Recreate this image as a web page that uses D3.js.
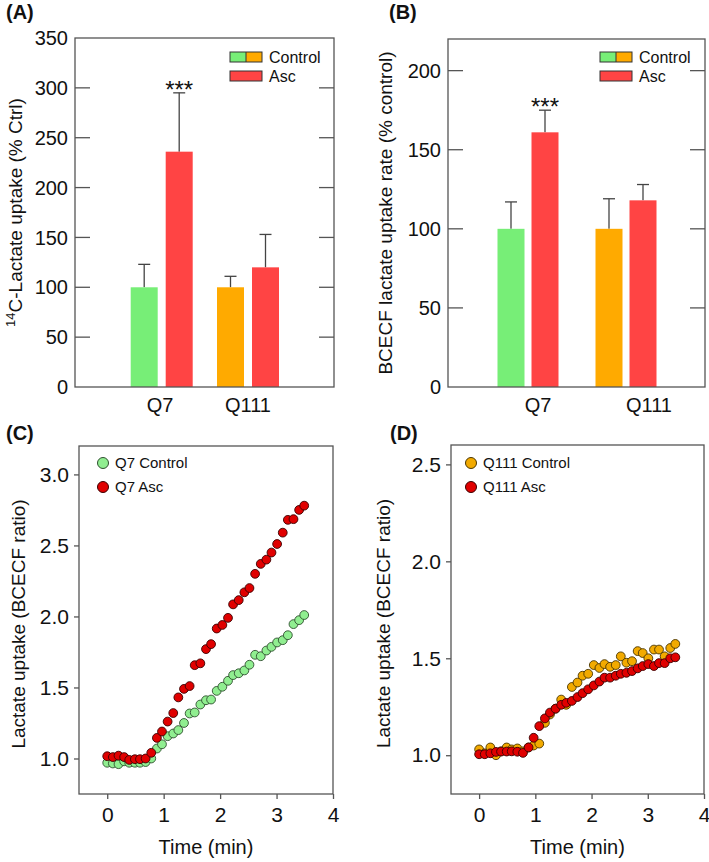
<!DOCTYPE html>
<html>
<head>
<meta charset="utf-8">
<script src="https://cdn.jsdelivr.net/npm/d3@7"></script>
<style>
  body { margin: 0; background: #fff; }
  svg text { font-family: "Liberation Sans", Arial, sans-serif; fill: #111; }
</style>
</head>
<body>
<div id="chart"></div>
<script>
// ---- data ----
const groups = ["Q7", "Q111"];
const uptakeA = [100, 236, 100, 120];        // Q7 ctrl, Q7 asc, Q111 ctrl, Q111 asc
const uptakeAErr = [123, 295, 111, 153];     // top of error bar
const rateB = [100, 161, 100, 118];
const rateBErr = [117, 175, 119, 128];
const ticksA = [0, 50, 100, 150, 200, 250, 300, 350];
const ticksB = [0, 50, 100, 150, 200];

const timeC = [0, 0.1, 0.2, 0.3, 0.39, 0.49, 0.58, 0.68, 0.78, 0.88, 0.97, 1.07, 1.17, 1.26, 1.36, 1.46, 1.55, 1.65, 1.75, 1.84, 1.94, 2.04, 2.14, 2.23, 2.33, 2.43, 2.52, 2.62, 2.72, 2.82, 2.91, 3.01, 3.11, 3.2, 3.3, 3.4, 3.49];
const q7Control = [0.97, 0.965, 0.96, 0.98, 0.97, 0.97, 0.97, 0.975, 1.0, 1.07, 1.1, 1.157, 1.176, 1.2, 1.25, 1.317, 1.324, 1.38, 1.41, 1.415, 1.476, 1.505, 1.547, 1.587, 1.6, 1.62, 1.66, 1.73, 1.72, 1.76, 1.786, 1.817, 1.833, 1.868, 1.946, 1.974, 2.01];
const q7Asc = [1.016, 1.01, 1.02, 1.01, 0.99, 0.995, 0.995, 1.0, 1.04, 1.145, 1.19, 1.26, 1.32, 1.43, 1.49, 1.51, 1.657, 1.67, 1.77, 1.805, 1.915, 1.94, 1.99, 2.085, 2.115, 2.17, 2.2, 2.3, 2.37, 2.4, 2.45, 2.51, 2.59, 2.68, 2.685, 2.75, 2.78];
const timeD = timeC;
const q111Control = [1.03, 1.01, 1.04, 1.0, 1.02, 1.04, 1.03, 1.035, 1.02, 1.04, 1.05, 1.06, 1.167, 1.21, 1.24, 1.287, 1.26, 1.352, 1.375, 1.41, 1.42, 1.465, 1.45, 1.47, 1.456, 1.465, 1.51, 1.477, 1.485, 1.537, 1.527, 1.5, 1.545, 1.545, 1.51, 1.553, 1.574];
const q111Asc = [1.005, 1.005, 1.01, 1.017, 1.019, 1.019, 1.02, 1.018, 1.012, 1.04, 1.09, 1.15, 1.19, 1.22, 1.24, 1.26, 1.27, 1.28, 1.3, 1.32, 1.34, 1.36, 1.38, 1.4, 1.4, 1.41, 1.42, 1.425, 1.434, 1.448, 1.46, 1.47, 1.46, 1.475, 1.475, 1.5, 1.505];
const ticksC = [1.0, 1.5, 2.0, 2.5, 3.0];
const ticksD = [1.0, 1.5, 2.0, 2.5];
const ticksTime = [0, 1, 2, 3, 4];

const GREEN = "#77ee77", ORANGE = "#ffaa00", RED = "#ff4444";
const FRAME = "#555";

const svg = d3.select("#chart").append("svg")
    .attr("width", 709)
    .attr("height", 862);

function panelLabel(txt, x, y) {
    svg.append("text").text(txt)
        .attr("x", x).attr("y", y)
        .style("font-size", "20px").style("font-weight", "bold");
}

function frame(g, l, r, t, b) {
    g.append("rect")
        .attr("x", l).attr("y", t).attr("width", r - l).attr("height", b - t)
        .attr("fill", "none").attr("stroke", FRAME).attr("stroke-width", 1.3);
}

/******* bar panels */
function barPanel(opts) {
    const { values, errs, ticks, domain, left, right, top, bottom, centers, labelPos, barW, gap, legendX, ylabel, ylabelX } = opts;
    const g = svg.append("g");
    const y = d3.scaleLinear().domain(domain).range([bottom, top]);
    const xc = d3.scaleOrdinal().domain(groups).range(centers);
    const xl = d3.scaleOrdinal().domain(groups).range(labelPos);
    const colors = [GREEN, RED, ORANGE, RED];

    const data = values.map((v, i) => ({
        group: groups[Math.floor(i / 2)], side: i % 2, v, err: errs[i], color: colors[i]
    }));
    const bx = d => xc(d.group) + (d.side === 0 ? -(gap / 2 + barW) : gap / 2);
    const inner = ticks.filter(t => t > domain[0] && t < domain[1]);

    // inward ticks on both sides
    g.append("g").selectAll("line").data(inner).enter()
        .append("line")
        .attr("x1", left).attr("x2", left + 15)
        .attr("y1", d => y(d)).attr("y2", d => y(d))
        .attr("stroke", FRAME).attr("stroke-width", 1.3);
    g.append("g").selectAll("line").data(inner).enter()
        .append("line")
        .attr("x1", right - 15).attr("x2", right)
        .attr("y1", d => y(d)).attr("y2", d => y(d))
        .attr("stroke", FRAME).attr("stroke-width", 1.3);
    g.append("g").selectAll("text").data(ticks).enter()
        .append("text").text(d => d)
        .attr("x", left - 7).attr("y", d => y(d))
        .attr("dy", "0.36em")
        .style("text-anchor", "end").style("font-size", "20px");

    // error bars (upper only)
    g.append("g").selectAll("g").data(data).enter()
        .append("g").each(function(d) {
            const cx = bx(d) + barW / 2;
            d3.select(this).append("line")
                .attr("x1", cx).attr("x2", cx).attr("y1", y(d.v)).attr("y2", y(d.err))
                .attr("stroke", "#444").attr("stroke-width", 1.3);
            d3.select(this).append("line")
                .attr("x1", cx - 6).attr("x2", cx + 6).attr("y1", y(d.err)).attr("y2", y(d.err))
                .attr("stroke", "#444").attr("stroke-width", 1.3);
        });

    g.append("g").selectAll("rect").data(data).enter()
        .append("rect")
        .attr("x", bx)
        .attr("y", d => y(d.v))
        .attr("width", barW)
        .attr("height", d => y(0) - y(d.v))
        .attr("fill", d => d.color);

    frame(g, left, right, top, bottom);

    // category labels
    g.append("g").selectAll("text").data(groups).enter()
        .append("text").text(d => d)
        .attr("x", d => xl(d)).attr("y", bottom + 25)
        .style("text-anchor", "middle").style("font-size", "20px");

    // significance above Q7 Asc
    g.append("text").text("***")
        .attr("x", bx(data[1]) + barW / 2).attr("y", y(data[1].err) + 5)
        .style("text-anchor", "middle").style("font-size", "24px");

    // legend
    const lg = g.append("g").attr("transform", `translate(${legendX},52)`);
    lg.append("rect").attr("x", 0).attr("y", 0).attr("width", 16).attr("height", 10).attr("fill", GREEN);
    lg.append("rect").attr("x", 16).attr("y", 0).attr("width", 16).attr("height", 10).attr("fill", ORANGE);
    lg.append("rect").attr("x", 0).attr("y", 0).attr("width", 32).attr("height", 10)
        .attr("fill", "none").attr("stroke", "#333").attr("stroke-width", 1);
    lg.append("line").attr("x1", 16).attr("x2", 16).attr("y1", 0).attr("y2", 10).attr("stroke", "#333");
    lg.append("rect").attr("x", 0).attr("y", 19).attr("width", 32).attr("height", 10)
        .attr("fill", RED).attr("stroke", "#333").attr("stroke-width", 1);
    lg.append("text").text("Control").attr("x", 39).attr("y", 5).attr("dy", "0.36em").style("font-size", "16px");
    lg.append("text").text("Asc").attr("x", 39).attr("y", 24).attr("dy", "0.36em").style("font-size", "16px");

    // y label
    const yl = g.append("text")
        .attr("transform", `translate(${ylabelX},${(top + bottom) / 2}) rotate(-90)`)
        .attr("dy", "0.36em")
        .style("text-anchor", "middle").style("font-size", "19px");
    ylabel(yl);
}

barPanel({
    values: uptakeA, errs: uptakeAErr, ticks: ticksA, domain: [0, 350],
    left: 75, right: 334, top: 38, bottom: 387,
    centers: [161.7, 248], labelPos: [160, 248], barW: 27, gap: 8,
    legendX: 230,
    ylabel: t => {
        t.append("tspan").text("14").attr("baseline-shift", "super").style("font-size", "13px");
        t.append("tspan").text("C-Lactate uptake (% Ctrl)");
    },
    ylabelX: 15
});

barPanel({
    values: rateB, errs: rateBErr, ticks: ticksB, domain: [0, 220],
    left: 448, right: 705, top: 39, bottom: 387,
    centers: [528, 626], labelPos: [538, 649], barW: 27, gap: 7,
    legendX: 600,
    ylabel: t => t.text("BCECF lactate uptake rate (% control)"),
    ylabelX: 385
});

panelLabel("(A)", 6, 19);
panelLabel("(B)", 389, 19);

/******* scatter panels */
function scatterPanel(opts) {
    const { time, series, ydomain, yticks, left, right, top, bottom, legendX, ylabelX } = opts;
    const g = svg.append("g");
    const x = d3.scaleLinear().domain([-0.5, 4]).range([left, right]);
    const y = d3.scaleLinear().domain(ydomain).range([bottom, top]);

    frame(g, left, right, top, bottom);

    g.append("g").attr("transform", `translate(0,${bottom})`)
        .call(d3.axisBottom(x).tickValues(ticksTime).tickSize(5).tickPadding(8).tickFormat(d3.format("d")))
        .call(a => a.select(".domain").remove())
        .call(a => a.selectAll("line").attr("stroke", FRAME).attr("stroke-width", 1.3))
        .call(a => a.selectAll("text").style("font-size", "21px").attr("fill", "#111")
            .style("font-family", "Liberation Sans, Arial, sans-serif"));

    g.append("g").attr("transform", `translate(${left},0)`)
        .call(d3.axisLeft(y).tickValues(yticks).tickSize(5).tickPadding(5).tickFormat(d3.format(".1f")))
        .call(a => a.select(".domain").remove())
        .call(a => a.selectAll("line").attr("stroke", FRAME).attr("stroke-width", 1.3))
        .call(a => a.selectAll("text").style("font-size", "21px").attr("fill", "#111")
            .style("font-family", "Liberation Sans, Arial, sans-serif"));

    // control drawn first, treated series on top
    series.forEach(s => {
        g.append("g").selectAll("circle")
            .data(s.values.map((v, i) => ({ t: time[i], v })))
            .enter().append("circle")
            .attr("cx", d => x(d.t))
            .attr("cy", d => y(d.v))
            .attr("r", 4.4)
            .attr("fill", s.color)
            .attr("stroke", s.stroke).attr("stroke-width", 0.9);
    });

    series.forEach((s, i) => {
        g.append("circle").attr("cx", legendX).attr("cy", 463 + i * 24).attr("r", 5.5)
            .attr("fill", s.color).attr("stroke", s.stroke).attr("stroke-width", 1);
        g.append("text").text(s.name).attr("x", legendX + 12).attr("y", 463 + i * 24)
            .attr("dy", "0.36em").style("font-size", "15px");
    });

    g.append("text").text("Time (min)")
        .attr("x", (left + right) / 2).attr("y", bottom + 60)
        .style("text-anchor", "middle").style("font-size", "20px");

    g.append("text").text("Lactate uptake (BCECF ratio)")
        .attr("transform", `translate(${ylabelX},${(top + bottom) / 2 + 4}) rotate(-90)`)
        .attr("dy", "0.36em")
        .style("text-anchor", "middle").style("font-size", "19px");
}

scatterPanel({
    time: timeC,
    series: [
        { name: "Q7 Control", values: q7Control, color: "#90ee90", stroke: "#2f4f2f" },
        { name: "Q7 Asc", values: q7Asc, color: "#e00000", stroke: "#3a0000" }
    ],
    ydomain: [0.75, 3.2], yticks: ticksC,
    left: 79, right: 333, top: 446, bottom: 794, legendX: 103, ylabelX: 18
});

scatterPanel({
    time: timeD,
    series: [
        { name: "Q111 Control", values: q111Control, color: "#f2aa00", stroke: "#4a3600" },
        { name: "Q111 Asc", values: q111Asc, color: "#e00000", stroke: "#3a0000" }
    ],
    ydomain: [0.8, 2.6], yticks: ticksD,
    left: 451, right: 704, top: 445, bottom: 794, legendX: 471, ylabelX: 383
});

panelLabel("(C)", 6, 440);
panelLabel("(D)", 390, 440);
</script>
</body>
</html>
